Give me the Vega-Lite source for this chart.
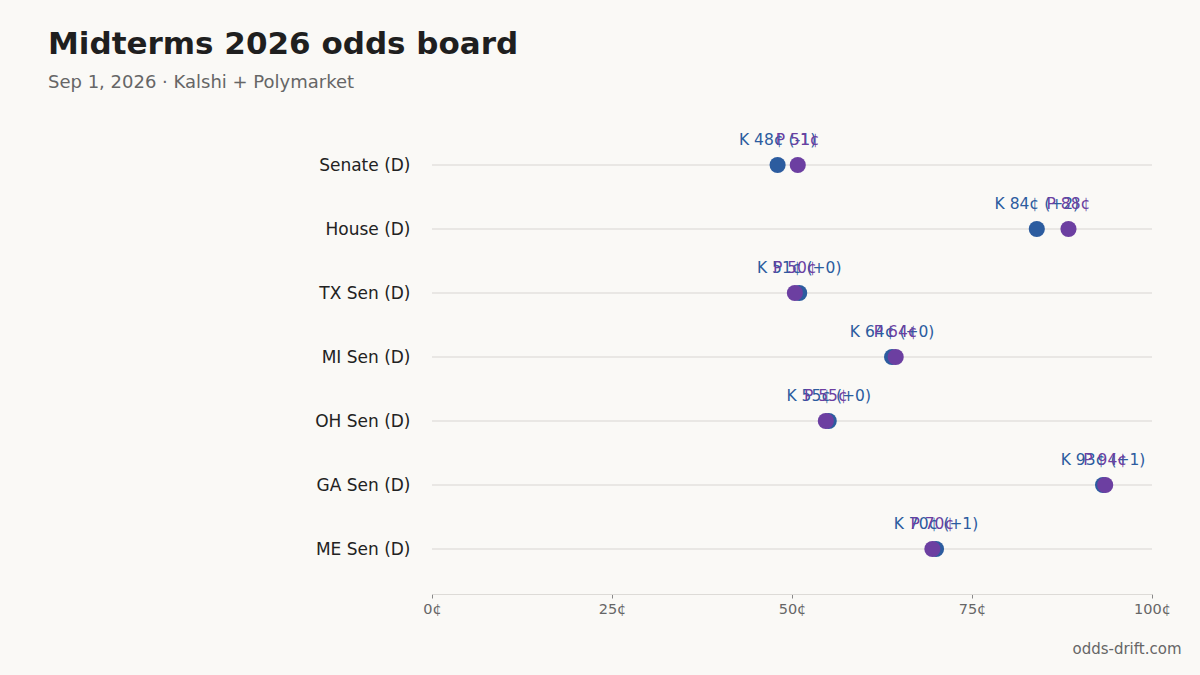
{
  "$schema": "https://vega.github.io/schema/vega-lite/v6.json",
  "description": "Midterms 2026 odds board: Kalshi vs Polymarket prices by race.",
  "width": 720,
  "height": 448,
  "autosize": {"type": "none"},
  "padding": {"left": 432, "top": 133, "right": 48, "bottom": 94},
  "background": "#faf9f6",
  "title": {
    "text": "Midterms 2026 odds board",
    "subtitle": "Sep 1, 2026 · Kalshi + Polymarket",
    "anchor": "start",
    "frame": "group",
    "dx": -384,
    "offset": 40,
    "fontSize": 31,
    "fontWeight": "bold",
    "color": "#1f1f1f",
    "subtitleFontSize": 18,
    "subtitleColor": "#666666",
    "subtitlePadding": 13
  },
  "data": {
    "values": [
      {"race": "Senate (D)", "source": "Kalshi", "price": 48.0, "label": "K 48¢ (-1)"},
      {"race": "House (D)", "source": "Kalshi", "price": 84.0, "label": "K 84¢ (+2)"},
      {"race": "TX Sen (D)", "source": "Kalshi", "price": 51.0, "label": "K 51¢ (+0)"},
      {"race": "MI Sen (D)", "source": "Kalshi", "price": 63.9, "label": "K 64¢ (+0)"},
      {"race": "OH Sen (D)", "source": "Kalshi", "price": 55.1, "label": "K 55¢ (+0)"},
      {"race": "GA Sen (D)", "source": "Kalshi", "price": 93.2, "label": "K 93¢ (+1)"},
      {"race": "ME Sen (D)", "source": "Kalshi", "price": 70.0, "label": "K 70¢ (+1)"},
      {"race": "Senate (D)", "source": "Polymarket", "price": 50.8, "label": "P 51¢"},
      {"race": "House (D)", "source": "Polymarket", "price": 88.4, "label": "P 88¢"},
      {"race": "TX Sen (D)", "source": "Polymarket", "price": 50.4, "label": "P 50¢"},
      {"race": "MI Sen (D)", "source": "Polymarket", "price": 64.4, "label": "P 64¢"},
      {"race": "OH Sen (D)", "source": "Polymarket", "price": 54.7, "label": "P 55¢"},
      {"race": "GA Sen (D)", "source": "Polymarket", "price": 93.5, "label": "P 94¢"},
      {"race": "ME Sen (D)", "source": "Polymarket", "price": 69.5, "label": "P 70¢"}
    ]
  },
  "encoding": {
    "y": {
      "field": "race",
      "type": "nominal",
      "sort": ["Senate (D)", "House (D)", "TX Sen (D)", "MI Sen (D)", "OH Sen (D)", "GA Sen (D)", "ME Sen (D)"],
      "scale": {"type": "point", "padding": 0.5},
      "axis": {
        "title": null,
        "ticks": false,
        "domain": false,
        "grid": false,
        "labelFontSize": 17,
        "labelColor": "#222222",
        "labelPadding": 22
      }
    }
  },
  "layer": [
    {
      "mark": {"type": "rule", "color": "#e4e2de", "strokeWidth": 1.2},
      "encoding": {}
    },
    {
      "mark": {"type": "circle", "size": 260, "opacity": 1},
      "encoding": {
        "x": {
          "field": "price",
          "type": "quantitative",
          "scale": {"domain": [0, 100], "nice": false},
          "axis": {
            "values": [0, 25, 50, 75, 100],
            "labelExpr": "datum.value + '¢'",
            "labelFlush": false,
            "grid": false,
            "offset": 13,
            "domainColor": "#dddbd7",
            "tickColor": "#888888",
            "tickSize": 4,
            "labelColor": "#666666",
            "labelFontSize": 14.5,
            "labelPadding": 4,
            "title": "odds-drift.com",
            "titleFontSize": 15,
            "titleFontWeight": "normal",
            "titleColor": "#666666",
            "titleAlign": "right",
            "titleBaseline": "top",
            "titleAnchor": "end",
            "titleX": 749,
            "titleY": 47
          }
        },
        "color": {
          "field": "source",
          "type": "nominal",
          "scale": {"domain": ["Kalshi", "Polymarket"], "range": ["#2c5c9f", "#6c3fa1"]},
          "legend": null
        }
      }
    },
    {
      "mark": {"type": "text", "dy": -25, "fontSize": 15.5},
      "encoding": {
        "x": {"field": "price", "type": "quantitative"},
        "text": {"field": "label"},
        "color": {"field": "source", "type": "nominal", "legend": null}
      }
    }
  ],
  "config": {
    "font": "DejaVu Sans",
    "view": {"stroke": null}
  }
}
